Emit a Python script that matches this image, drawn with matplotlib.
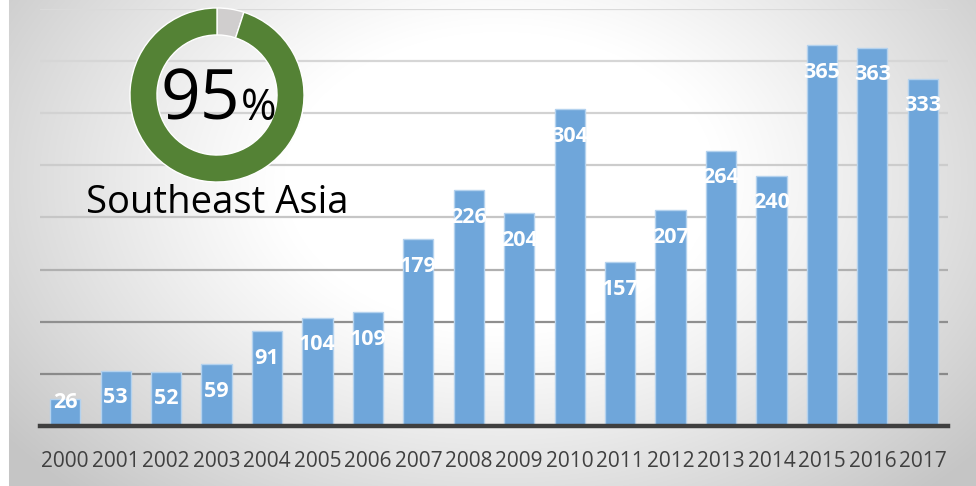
import numpy as np
import matplotlib.pyplot as plt

# data
years = [str(y) for y in range(2000, 2018)]
counts = [26, 53, 52, 59, 91, 104, 109, 179, 226, 204, 304, 157, 207, 264, 240, 365, 363, 333]
share = [5, 95]          # other, southeast asia (%)
share_label = '95'
region = 'Southeast Asia'

plt.rcParams['font.family'] = ['Open Sans', 'DejaVu Sans']

W, H = 976, 486
fig = plt.figure(figsize=(W/100, H/100), dpi=100)

# background gradient (white centre, grey edges)
bg = fig.add_axes([0, 0, 1, 1])
xx, yy = np.meshgrid(np.arange(W), np.arange(H))
d = np.sqrt(((xx-500)/480)**2 + ((yy-180)/330)**2)
t = np.clip((d-0.45)/0.85, 0, 1)**1.1
g = (255 - 58*t)/255
img = np.dstack([g, g, g])
img[:, :9] = 1.0
bg.imshow(img, extent=[0, W, H, 0], aspect='auto')
bg.set_xlim(0, W)
bg.set_ylim(H, 0)
bg.axis('off')

# bar chart
ax = fig.add_axes([40/W, 1-426/H, 908/W, 417/H])
ax.patch.set_alpha(0)
x = np.arange(len(years))
grid_cols = ['#8a8a8a', '#8f8f8f', '#b0b0b0', '#c6c6c6', '#cccccc', '#d2d2d2', '#d6d6d6', '#dadada']
for lev, c in zip(range(50, 401, 50), grid_cols):
    ax.axhline(lev, color=c, lw=1.6, zorder=1)
ax.bar(x, counts, width=0.6, color='#6fa6da', edgecolor='#b4d2ee', lw=1, zorder=2)
for xi, v in zip(x, counts):
    ax.text(xi, max(v-26, 23), str(v), ha='center', va='center', color='white',
            fontsize=15.5, fontweight='bold', zorder=3)
ax.axhline(0, color='#3f3f3f', lw=3.2, zorder=4, clip_on=False)
ax.set_xlim(-0.5, len(years)-0.5)
ax.set_ylim(0, 400)
ax.set_xticks(x)
ax.set_xticklabels(years, fontsize=15, color='#404040')
ax.tick_params(axis='x', length=0, pad=18)
ax.set_yticks([])
for s in ax.spines.values():
    s.set_visible(False)

# donut
dax = fig.add_axes([(217-90)/W, 1-(95+90)/H, 180/W, 180/H])
dax.pie(share, colors=['#d0cece', '#548235'], startangle=90, counterclock=False,
        radius=0.967, wedgeprops=dict(width=0.3, edgecolor='white', linewidth=1))
dax.set_xlim(-1, 1)
dax.set_ylim(-1, 1)
dax.set_aspect('auto')
dax.axis('off')

fig.text(240/W, 1-120/H, share_label, ha='right', va='baseline', fontsize=50, color='black')
fig.text(241/W, 1-120/H, '%', ha='left', va='baseline', fontsize=31, color='black')
fig.text(217/W, 1-213/H, region, ha='center', va='baseline', fontsize=27.5,
         fontweight='medium', color='black')

fig.savefig('out.png', dpi=100)
